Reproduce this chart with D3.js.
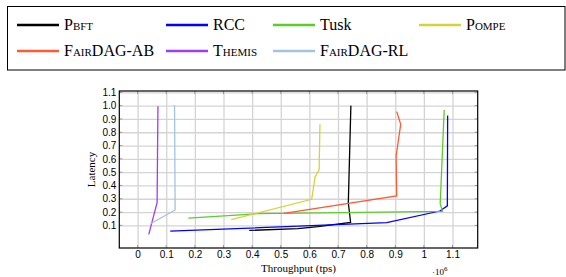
<!DOCTYPE html>
<html>
<head>
<meta charset="utf-8">
<style>
  body { margin: 0; background: #fff; }
  svg { font-family: "Liberation Serif", "DejaVu Serif", serif; }
  .grid line { stroke: #d4d4d4; stroke-width: 1.3; }
  .grid path { display: none; }
  .axis path { display: none; }
  .axis line { stroke: #888; }
  .axis text { font-size: 10px; fill: #000; }
  .series { fill: none; stroke-width: 1.3; }
  .leg text { font-size: 16px; }
</style>
<script src="https://d3js.org/d3.v7.min.js"></script>
</head>
<body>
<div id="chart"></div>
<script>
// series names, colours and points (throughput in 1e6 tps, latency)
var names = ["Pbft", "RCC", "Tusk", "Pompe", "FairDAG-AB", "Themis", "FairDAG-RL"];
var smallCaps = [true, false, false, true, true, true, true];
var colors = ["#000000", "#0000ff", "#5ccc2a", "#d4d43a", "#ff5a36", "#a03cf5", "#a4c2e2"];

var pbft = [[0.39, 0.062], [0.56, 0.075], [0.63, 0.09], [0.744, 0.122], [0.736, 0.27], [0.745, 1.0]];
var rcc = [[0.114, 0.057], [0.87, 0.12], [1.056, 0.208], [1.082, 0.247], [1.083, 0.926]];
var tusk = [[0.177, 0.155], [0.42, 0.188], [1.065, 0.206], [1.057, 0.263], [1.071, 0.968]];
var pompe = [[0.327, 0.143], [0.608, 0.296], [0.62, 0.465], [0.634, 0.518], [0.637, 0.86]];
var fairdagAB = [[0.511, 0.19], [0.905, 0.322], [0.903, 0.62], [0.919, 0.86], [0.905, 0.955]];
var themis = [[0.039, 0.032], [0.068, 0.27], [0.071, 0.995]];
var fairdagRL = [[0.045, 0.112], [0.131, 0.216], [0.129, 1.005]];
var series = [pbft, rcc, tusk, pompe, fairdagAB, themis, fairdagRL];

var xTicks = [0, 0.1, 0.2, 0.3, 0.4, 0.5, 0.6, 0.7, 0.8, 0.9, 1, 1.1];
var xTickLabels = ["0", "0.1", "0.2", "0.3", "0.4", "0.5", "0.6", "0.7", "0.8", "0.9", "1", "1.1"];
var yTicks = [0.1, 0.2, 0.3, 0.4, 0.5, 0.6, 0.7, 0.8, 0.9, 1.0, 1.1];
var yTickLabels = ["0.1", "0.2", "0.3", "0.4", "0.5", "0.6", "0.7", "0.8", "0.9", "1.0", "1.1"];

var W = 566, H = 277;
var pLeft = 119.3, pRight = 477.7, pTop = 91, pBottom = 248;

var svg = d3.select("#chart").append("svg")
  .attr("width", W).attr("height", H);

var x = d3.scaleLinear().domain([-0.064, 1.188]).range([pLeft, pRight]);
var y = d3.scaleLinear().domain([-0.07, 1.11]).range([pBottom, pTop]);

// grid
svg.append("g").attr("class", "grid")
  .attr("transform", `translate(0,${pBottom})`)
  .call(d3.axisBottom(x).tickValues(xTicks).tickSize(-(pBottom - pTop)).tickFormat(""));
svg.append("g").attr("class", "grid")
  .attr("transform", `translate(${pLeft},0)`)
  .call(d3.axisLeft(y).tickValues(yTicks).tickSize(-(pRight - pLeft)).tickFormat(""));

// small inner tick marks on all four sides
var tk = 3;
var marks = svg.append("g").attr("stroke", "#888").attr("stroke-width", 0.8);
xTicks.forEach(function(v) {
  marks.append("line").attr("x1", x(v)).attr("x2", x(v)).attr("y1", pBottom).attr("y2", pBottom - tk);
  marks.append("line").attr("x1", x(v)).attr("x2", x(v)).attr("y1", pTop).attr("y2", pTop + tk);
});
yTicks.forEach(function(v) {
  marks.append("line").attr("y1", y(v)).attr("y2", y(v)).attr("x1", pLeft).attr("x2", pLeft + tk);
  marks.append("line").attr("y1", y(v)).attr("y2", y(v)).attr("x1", pRight).attr("x2", pRight - tk);
});

// tick labels
svg.append("g").attr("class", "axis")
  .attr("transform", `translate(0,${pBottom})`)
  .call(d3.axisBottom(x).tickValues(xTicks).tickSize(0).tickPadding(3)
    .tickFormat(function(d, i) { return xTickLabels[i]; }));
svg.append("g").attr("class", "axis")
  .attr("transform", `translate(${pLeft},0)`)
  .call(d3.axisLeft(y).tickValues(yTicks).tickSize(0).tickPadding(3)
    .tickFormat(function(d, i) { return yTickLabels[i]; }));

// lines
var line = d3.line().x(d => x(d[0])).y(d => y(d[1]));
svg.append("g").selectAll("path")
  .data(series).enter()
  .append("path")
  .attr("class", "series")
  .attr("d", d => line(d))
  .attr("stroke", (d, i) => colors[i]);

// frame
svg.append("rect")
  .attr("x", pLeft).attr("y", pTop)
  .attr("width", pRight - pLeft).attr("height", pBottom - pTop)
  .attr("fill", "none").attr("stroke", "#000").attr("stroke-width", 1.2);

// axis titles
svg.append("text")
  .attr("x", (pLeft + pRight) / 2).attr("y", 272)
  .attr("text-anchor", "middle").attr("font-size", 11)
  .text("Throughput (tps)");
svg.append("text")
  .attr("transform", `translate(95,${(pTop + pBottom) / 2}) rotate(-90)`)
  .attr("text-anchor", "middle").attr("font-size", 11)
  .text("Latency");
var sc = svg.append("text").attr("x", 432).attr("y", 275).attr("font-size", 9);
sc.append("tspan").text("\u00b710");
sc.append("tspan").attr("dy", -4).attr("font-size", 7).text("6");

// legend
svg.append("rect")
  .attr("x", 7.5).attr("y", 6.5).attr("width", 557.5).attr("height", 63.5)
  .attr("fill", "none").attr("stroke", "#000").attr("stroke-width", 1);
var legX = [17, 166, 273, 419, 17, 166, 273];
var legY = [25, 25, 25, 25, 51, 51, 51];
var leg = svg.append("g").attr("class", "leg");
names.forEach(function(n, i) {
  leg.append("line")
    .attr("x1", legX[i]).attr("x2", legX[i] + 42)
    .attr("y1", legY[i]).attr("y2", legY[i])
    .attr("stroke", colors[i]).attr("stroke-width", 2.6);
  leg.append("text")
    .attr("x", legX[i] + 47).attr("y", legY[i] + 5)
    .style("font-variant", smallCaps[i] ? "small-caps" : "normal")
    .text(n);
});
</script>
</body>
</html>
